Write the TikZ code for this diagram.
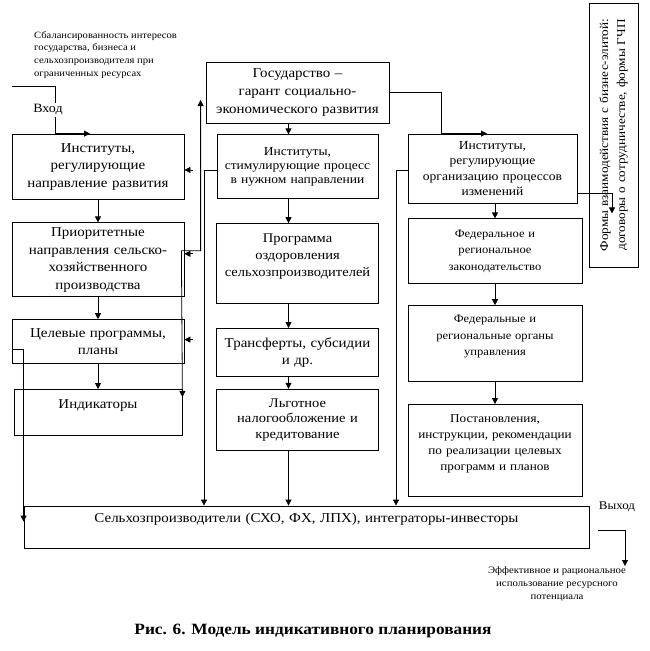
\documentclass[tikz,border=0pt]{standalone}
\usepackage{fontspec}
\setmainfont[FakeStretch=1.1]{Liberation Serif}
\usepackage{tikz}
\usetikzlibrary{positioning,arrows.meta}
\newcommand\txtbig{\fontsize{13.6}{17.5}\selectfont}
\newcommand\txtmid{\fontsize{11.4}{16.5}\selectfont}
\newcommand\txtsml{\fontsize{12.3}{15.5}\selectfont}
\newcommand\txtnote{\fontsize{9.6}{12.7}\selectfont}
\newcommand\txttiny{\fontsize{9.8}{13}\selectfont}
\newcommand\txtcap{\fontsize{15.7}{18}\selectfont\bfseries}
\tikzset{
  block/.style={rectangle, draw=black, line width=0.8pt, inner sep=3pt,
                align=center, font=\txtbig},
  note/.style={inner sep=0pt, align=left, font=\txtnote},
  arr/.style={-{Triangle[length=6pt,width=6pt]}, line width=0.8pt},
  arrboth/.style={{Triangle[length=6pt,width=6pt]}-{Triangle[length=6pt,width=6pt]}, line width=0.8pt},
}

\begin{document}
\begin{tikzpicture}[x=1pt,y=-1pt,node distance=20pt]
  \useasboundingbox (0,0) rectangle (649,651);
  % left column
  \node[block, text width=166pt, minimum height=65pt] (a) at (98,166.5) {Институты,\\ регулирующие\\ направление развития};
  \node[block, text width=166pt, minimum height=74pt, below=23pt of a] (b) {Приоритетные\\ направления сельско-\\ хозяйственного\\ производства};
  \node[block, text width=166pt, minimum height=44pt, below=22pt of b] (c) {Целевые программы,\\ планы};
  \node[block, text width=162pt, minimum height=46pt, below=25pt of c] (d) {Индикаторы\\ \mbox{}};
  % middle column
  \node[block, font=\fontsize{13.6}{18}\selectfont, text width=177pt, minimum height=61pt] (gos) at (297.5,92.5) {Государство –\\ гарант социально-\\ экономического развития};
  \node[block, font=\fontsize{12.3}{14}\selectfont, text width=155pt, minimum height=64pt, below=11pt of gos] (m1) {Институты,\\ стимулирующие процесс\\ в нужном направлении};
  \node[block, font=\fontsize{13.2}{17}\selectfont, text width=156pt, minimum height=80pt, below=24pt of m1] (m2) {Программа\\ оздоровления\\ сельхозпроизводителей\\ \mbox{}};
  \node[block, text width=156pt, minimum height=48pt, below=24pt of m2] (m3) {Трансферты, субсидии\\ и др.};
  \node[block, font=\fontsize{13.2}{15.5}\selectfont, text width=156pt, minimum height=61pt, below=12pt of m3] (m4) {Льготное\\ налогообложение и\\ кредитование};
  % right column
  \node[block, font=\txtsml, text width=163pt, minimum height=69pt] (r1) at (492.5,168.5) {Институты,\\ регулирующие\\ организацию процессов\\ изменений};
  \node[block, font=\txtmid, text width=168pt, minimum height=65pt, below=15pt of r1, xshift=2.5pt] (r2) {Федеральное и\\ региональное\\ законодательство};
  \node[block, font=\txtmid, text width=168pt, minimum height=76pt, below=21pt of r2] (r3) {Федеральные и\\ региональные органы\\ управления\\ \mbox{}};
  \node[block, font=\fontsize{12}{16}\selectfont, text width=168pt, minimum height=92pt, below=22pt of r3] (r4) {Постановления,\\ инструкции, рекомендации\\ по реализации целевых\\ программ и планов\\ \mbox{}};
  \node[block, font=\fontsize{12}{17}\selectfont, rotate=90, text width=258pt, minimum height=49pt] (forms) at (613.5,135) {Формы взаимодействия с бизнес-элитой:\\ договоры о сотрудничестве, формы ГЧП};
  % bottom
  \node[block, text width=559pt, minimum height=42pt] (s) at (306.5,527) {Сельхозпроизводители (СХО, ФХ, ЛПХ), интеграторы-инвесторы\\ \mbox{}};
  % texts
  \node[note, anchor=north west] (bal) at (34,31) {Сбалансированность интересов\\ государства, бизнеса и\\ сельхозпроизводителя при\\ ограниченных ресурсах};
  \node[font=\fontsize{12.7}{14}\selectfont, inner sep=1pt] (vhod) at (48,110) {Вход};
  \node[font=\fontsize{11.8}{14}\selectfont, inner sep=1pt] (vyhod) at (617,507) {Выход};
  \node[font=\txttiny, align=center, inner sep=0pt, anchor=north] (eff) at (557,566) {Эффективное и рациональное\\ использование ресурсного\\ потенциала};
  \node[font=\txtcap] (cap) at (313,631) {Рис. 6. Модель индикативного планирования};
  \coordinate (inA) at (12,86);
  % connectors
  \draw[line width=0.8pt] (inA) -| ([xshift=7pt]vhod.north);
  \draw[arr] ([xshift=7pt]vhod.south) |- ([xshift=-8pt]a.north);
  \draw[arr] (a) -- (b);
  \draw[arr] (b) -- (c);
  \draw[arr] (c.south -| d.north) -- (d.north);
  \draw[arr] ([xshift=9pt,yshift=-3.5pt]a.east) -- ([yshift=-3.5pt]a.east);
  \draw[arr] ([xshift=9pt,yshift=6pt]b.east) -- ([yshift=6pt]b.east);
  \draw[arr] ([xshift=9pt,yshift=2pt]c.east) -- ([yshift=2pt]c.east);
  \draw[arrboth] ([xshift=-5pt,yshift=-7.5pt]gos.west) |- ([xshift=-3pt,yshift=9pt]b.east) -- ([yshift=-8pt]d.north east);
  \draw[arr] ([yshift=-8pt]c.west) -| ([yshift=-16pt]s.north west);
  \draw[arr] ([xshift=-9pt]gos.south) -- ([xshift=-9pt]m1.north);
  \draw[arr] ([xshift=-9pt]m1.south) -- ([xshift=-9pt]m2.north);
  \draw[arr] ([xshift=-9pt]m2.south) -- ([xshift=-9pt]m3.north);
  \draw[arr] ([xshift=-9pt]m3.south) -- ([xshift=-9pt]m4.north);
  \draw[arr] ([xshift=-9pt]m4.south) -- ([xshift=-9pt]m4.south |- s.north);
  \draw[arr] ([yshift=-4pt]m1.west) -| ([xshift=-102.5pt]s.north);
  \draw[arr] (gos.east) -| ([xshift=-51.5pt]r1.north) -- ([xshift=-5.5pt]r1.north);
  \draw[arr] (r2.north |- r1.south) -- (r2.north);
  \draw[arr] (r2) -- (r3);
  \draw[arr] (r3) -- (r4);
  \draw[arr] ([yshift=-1.5pt]r1.west) -| ([xshift=89.5pt]s.north);
  \draw[arr] ([yshift=-24.5pt]r1.east) -| ([xshift=-1.5pt,yshift=54pt]forms.west);
  \draw[arr] ([xshift=9pt,yshift=-3pt]s.east) -| ([xshift=68pt]eff.north);
\end{tikzpicture}
\end{document}
